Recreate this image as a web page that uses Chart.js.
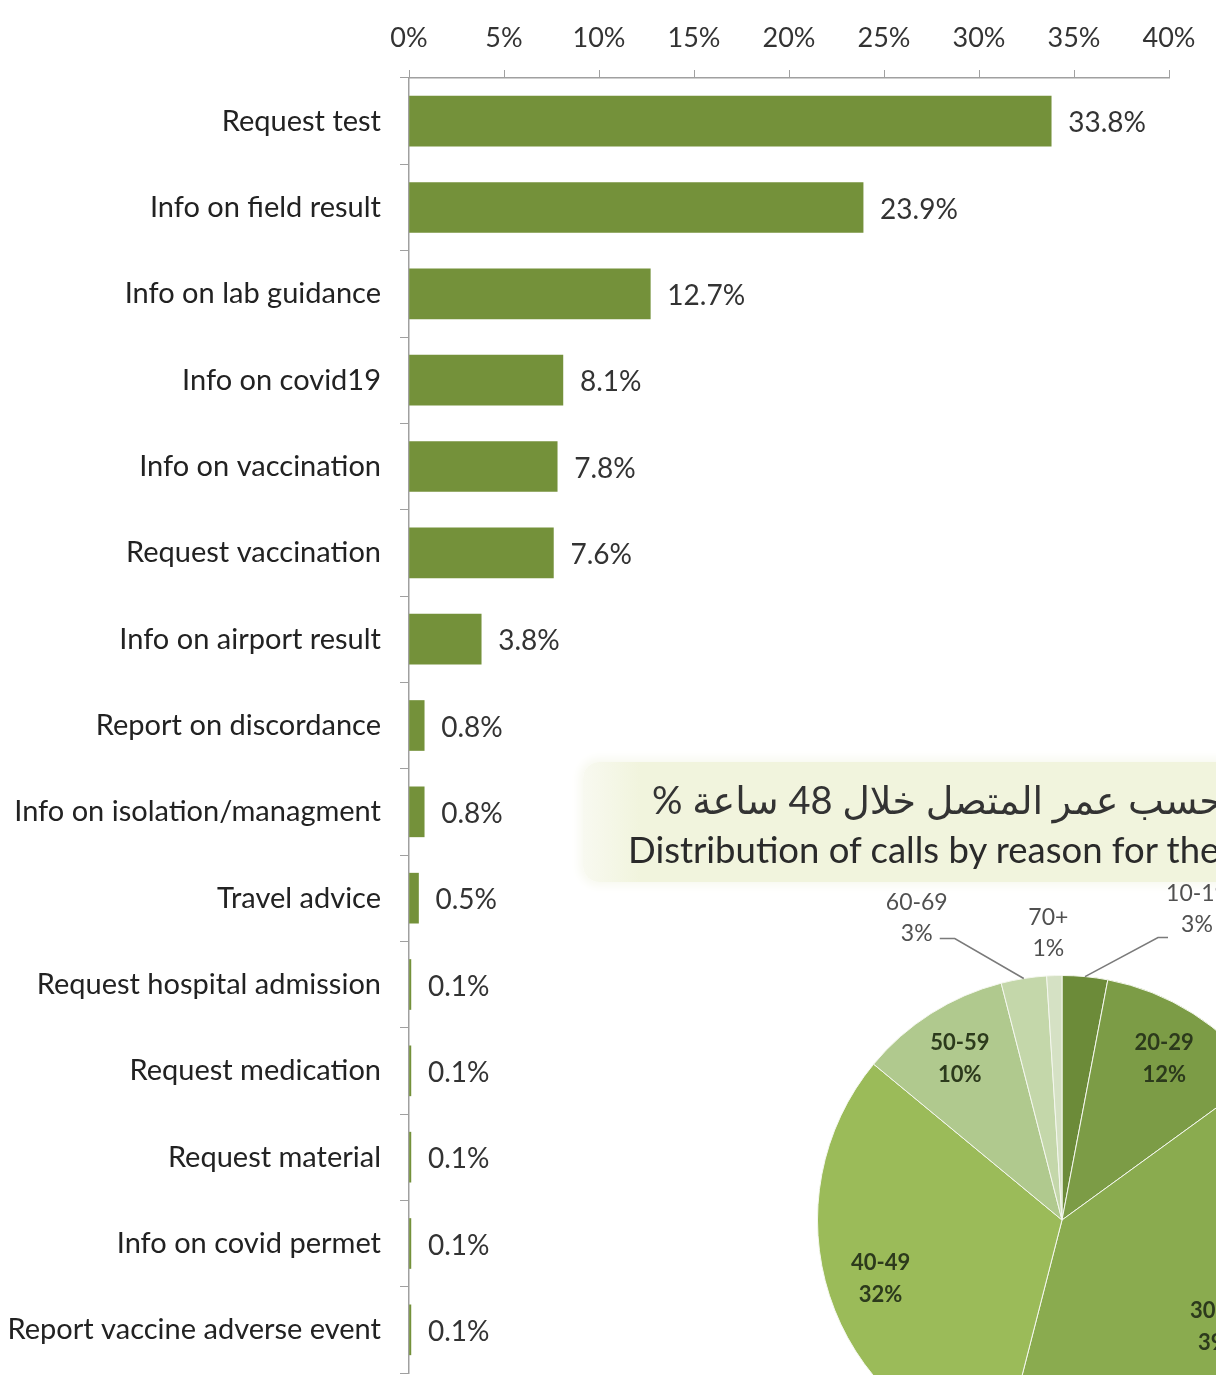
<!DOCTYPE html>
<html>
<head>
<meta charset="utf-8">
<script src="https://cdn.jsdelivr.net/npm/chart.js@4.4.1/dist/chart.umd.min.js"></script>
<style>
  html, body { margin: 0; padding: 0; background: #fff; overflow: hidden; }
  #page { position: relative; width: 1216px; height: 1375px; overflow: hidden; font-family: Lato, "DejaVu Sans", sans-serif; }
  #barWrap { position: absolute; left: 0; top: 0; width: 1216px; height: 1375px; }
  #titleBox {
    position: absolute; left: 583px; top: 762px; width: 720px; height: 120px;
    border-radius: 16px;
    background: linear-gradient(to right, #f8f9f0, #f1f4dd 8%, #f1f4dd);
    box-shadow: 0 0 10px 4px #f8f9f0;
  }
  .ar { position: absolute; left: 652px; top: 776px; direction: rtl; white-space: nowrap; font-size: 38px; color: #333; line-height: 46px; }
  .en { position: absolute; left: 628px; top: 827px; white-space: nowrap; font-size: 36.5px; color: #2a2a2a; line-height: 44px; }
  #pieWrap { position: absolute; left: 712px; top: 870px; width: 700px; height: 700px; }
</style>
</head>
<body>
<div id="page">
  <div id="barWrap"><canvas id="barChart"></canvas></div>
  <div id="titleBox"></div>
  <div class="ar">توزيع الاتصالات حسب عمر المتصل خلال 48 ساعة %</div>
  <div class="en">Distribution of calls by reason for the last 48 hours %</div>
  <div id="pieWrap"><canvas id="pieChart"></canvas></div>
</div>
<script>
// reasons for calling, top to bottom
const reasons = [
  'Request test',
  'Info on field result',
  'Info on lab guidance',
  'Info on covid19',
  'Info on vaccination',
  'Request vaccination',
  'Info on airport result',
  'Report on discordance',
  'Info on isolation/managment',
  'Travel advice',
  'Request hospital admission',
  'Request medication',
  'Request material',
  'Info on covid permet',
  'Report vaccine adverse event'
];
const shares = [33.8, 23.9, 12.7, 8.1, 7.8, 7.6, 3.8, 0.8, 0.8, 0.5, 0.1, 0.1, 0.1, 0.1, 0.1];

// caller age breakdown (pie)
const ageGroups = ['10-19', '20-29', '30-39', '40-49', '50-59', '60-69', '70+'];
const ageShares = [3, 12, 39, 32, 10, 3, 1];
const ageColors = ['#6c8b39', '#7c9c46', '#8aab4f', '#9bbb59', '#b0c98e', '#c4d7aa', '#d5e1c4'];

const FONT = 'Lato, "DejaVu Sans", sans-serif';
const axisGrey = '#a0a0a0';

const valueLabels = {
  id: 'valueLabels',
  afterDatasetsDraw(chart) {
    const ctx = chart.ctx;
    ctx.save();
    ctx.font = '28px ' + FONT;
    ctx.fillStyle = '#333';
    ctx.textBaseline = 'middle';
    chart.getDatasetMeta(0).data.forEach((bar, i) => {
      ctx.fillText(shares[i].toFixed(1) + '%', bar.x + 17, bar.y + 2);
    });
    ctx.restore();
  }
};

new Chart(document.getElementById('barChart'), {
  type: 'bar',
  data: {
    labels: reasons,
    datasets: [{
      data: shares,
      backgroundColor: '#74913a',
      barThickness: 50
    }]
  },
  options: {
    indexAxis: 'y',
    responsive: true,
    maintainAspectRatio: false,
    animation: false,
    layout: { padding: { top: 0, right: 47, bottom: 2, left: 0 } },
    plugins: { legend: { display: false }, tooltip: { enabled: false } },
    scales: {
      x: {
        position: 'top',
        min: 0,
        max: 40,
        afterFit(s) { s.height = 78; },
        ticks: {
          stepSize: 5,
          callback: v => v + '%',
          color: '#333',
          font: { family: FONT, size: 27 },
          padding: 16
        },
        grid: { drawOnChartArea: false, tickLength: 8, color: axisGrey },
        border: { color: axisGrey, width: 1.5 }
      },
      y: {
        afterFit(s) { s.width = 409; s.paddingTop = 0; s.paddingBottom = 0; },
        ticks: {
          color: '#222',
          font: { family: FONT, size: 29 },
          padding: 19
        },
        grid: { drawOnChartArea: false, tickLength: 9, color: axisGrey },
        border: { color: axisGrey, width: 1.5 }
      }
    }
  },
  plugins: [valueLabels]
});

// label placement for the pie: small slices get callouts above the pie
const callouts = {
  0: { dx: 112, dy: -83, line: [[73, -39], [83, -39]] },
  5: { dx: -107, dy: -76, line: [[-69, -40], [-84, -40]] },
  6: { dx: -6, dy: -58 }
};

const pieLabels = {
  id: 'pieLabels',
  afterDatasetsDraw(chart) {
    const ctx = chart.ctx;
    ctx.save();
    ctx.textAlign = 'center';
    ctx.textBaseline = 'middle';
    chart.getDatasetMeta(0).data.forEach((arc, i) => {
      const mid = (arc.startAngle + arc.endAngle) / 2;
      const R = arc.outerRadius;
      const text1 = ageGroups[i];
      const text2 = ageShares[i] + '%';
      const c = callouts[i];
      if (c) {
        const ex = arc.x + Math.cos(mid) * R;
        const ey = arc.y + Math.sin(mid) * R;
        if (c.line) {
          ctx.strokeStyle = '#7a7a7a';
          ctx.lineWidth = 1.5;
          ctx.beginPath();
          ctx.moveTo(ex, ey);
          c.line.forEach(p => ctx.lineTo(ex + p[0], ey + p[1]));
          ctx.stroke();
        }
        ctx.font = '23px ' + FONT;
        ctx.fillStyle = '#505050';
        ctx.fillText(text1, ex + c.dx, ey + c.dy);
        ctx.fillText(text2, ex + c.dx, ey + c.dy + 31);
      } else {
        const r = R * 0.78;
        const lx = arc.x + Math.cos(mid) * r;
        const ly = arc.y + Math.sin(mid) * r;
        ctx.font = 'bold 22px ' + FONT;
        ctx.fillStyle = '#2c3a1c';
        ctx.fillText(text1, lx, ly - 16);
        ctx.fillText(text2, lx, ly + 16);
      }
    });
    ctx.restore();
  }
};

new Chart(document.getElementById('pieChart'), {
  type: 'pie',
  data: {
    labels: ageGroups,
    datasets: [{
      data: ageShares,
      backgroundColor: ageColors,
      borderColor: '#f4f7ee',
      borderWidth: 1
    }]
  },
  options: {
    responsive: true,
    maintainAspectRatio: false,
    animation: false,
    layout: { padding: 105 },
    plugins: { legend: { display: false }, tooltip: { enabled: false } }
  },
  plugins: [pieLabels]
});
</script>
</body>
</html>
